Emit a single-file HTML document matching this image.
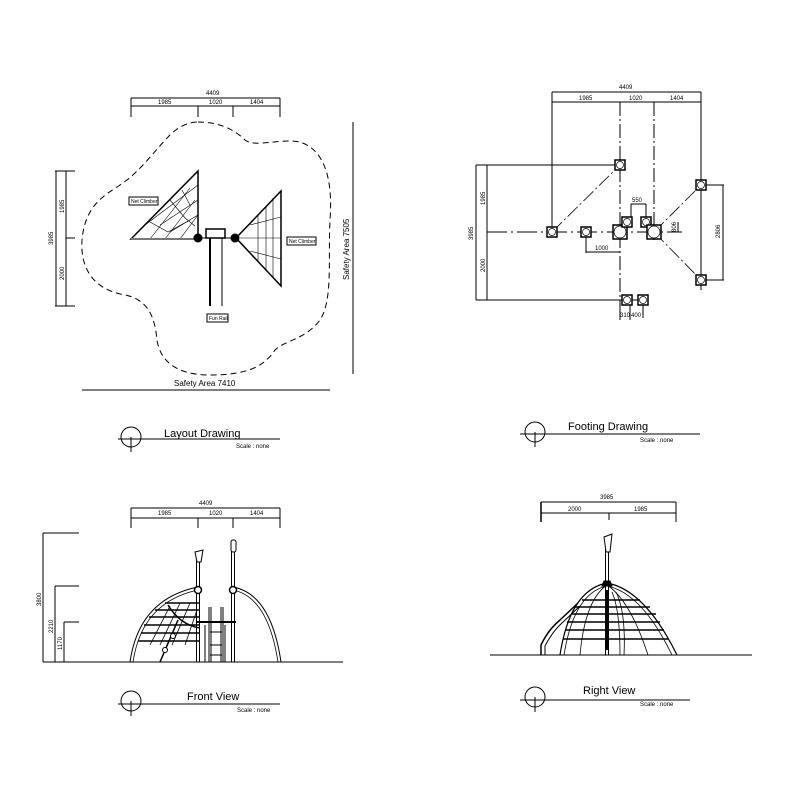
<!DOCTYPE html>
<html><head><meta charset="utf-8"><style>
html,body{margin:0;padding:0;background:#fff;}
svg{display:block;}
text{font-family:"Liberation Sans",sans-serif;fill:#000;}
.s{font-size:6px;}
</style></head><body>
<svg width="800" height="800" viewBox="0 0 800 800" xmlns="http://www.w3.org/2000/svg" stroke="#000" fill="none" stroke-width="1">
<!-- ===== LAYOUT ===== -->
<g>
<line x1="131" y1="98" x2="280" y2="98"/><line x1="131" y1="106" x2="280" y2="106"/>
<line x1="131" y1="98" x2="131" y2="117"/><line x1="198" y1="106" x2="198" y2="117"/><line x1="233" y1="106" x2="233" y2="117"/><line x1="280" y1="98" x2="280" y2="117"/>
<text class="s" x="206" y="95" stroke="none">4409</text>
<text class="s" x="158" y="104" stroke="none">1985</text><text class="s" x="209" y="104" stroke="none">1020</text><text class="s" x="250" y="104" stroke="none">1404</text>
<line x1="56" y1="171" x2="56" y2="306"/><line x1="66" y1="171" x2="66" y2="306"/>
<line x1="55" y1="171" x2="75" y2="171"/><line x1="66" y1="238" x2="75" y2="238"/><line x1="55" y1="306" x2="75" y2="306"/>
<text class="s" transform="translate(53,245) rotate(-90)" stroke="none">3985</text>
<text class="s" transform="translate(64,213) rotate(-90)" stroke="none">1985</text>
<text class="s" transform="translate(64,280) rotate(-90)" stroke="none">2000</text>
<path d="M198,122 C220,122 235,130 245,140 C255,148 280,138 300,142 C325,150 333,180 330,220 C328,260 333,300 320,320 C305,340 285,340 275,350 C265,365 250,375 210,375 C175,375 160,360 157,340 C155,320 150,300 125,295 C95,290 80,270 82,240 C85,205 105,195 120,185 C140,172 155,150 170,135 C178,127 188,122 198,122 Z" stroke-dasharray="6,4"/>
<line x1="353" y1="122" x2="353" y2="374"/>
<line x1="82" y1="390" x2="330" y2="390"/>
<text x="174" y="386" font-size="8" stroke="none">Safety Area 7410</text>
<text transform="translate(349,280) rotate(-90)" font-size="8" stroke="none">Safety Area 7505</text>
<polygon points="131,239 198,171 198,239" stroke-width="1.5"/>
<g stroke-width="0.6">
<line x1="198" y1="185" x2="145" y2="225"/><line x1="198" y1="200" x2="160" y2="225"/><line x1="198" y1="215" x2="170" y2="232"/>
<line x1="150" y1="239" x2="190" y2="188"/><line x1="165" y1="239" x2="195" y2="200"/><line x1="180" y1="239" x2="198" y2="215"/>
<path d="M150,222 L168,232 L190,220 M170,200 L185,218 L195,226 M182,190 L190,205"/>
</g>
<line x1="131" y1="239" x2="198" y2="239" stroke-width="2" stroke="#777"/>
<polygon points="281,191 281,286 236,238" stroke-width="1.5"/>
<g stroke-width="0.6">
<line x1="258" y1="214" x2="258" y2="262"/><line x1="266" y1="206" x2="266" y2="270"/><line x1="273" y1="198" x2="273" y2="278"/>
<line x1="240" y1="238" x2="281" y2="238"/><line x1="250" y1="225" x2="281" y2="217"/><line x1="250" y1="251" x2="281" y2="259"/>
</g>
<circle cx="198" cy="238" r="4" fill="#000"/><circle cx="235" cy="238" r="4" fill="#000"/>
<rect x="206" y="229" width="19" height="9" stroke-width="1.5"/>
<line x1="198" y1="238" x2="235" y2="238"/>
<line x1="210" y1="238" x2="210" y2="306" stroke-width="2"/><line x1="222" y1="238" x2="222" y2="306"/>
<rect x="129" y="197" width="29" height="8" fill="#fff"/><text x="131" y="203" font-size="5" stroke="none">Net Climber</text>
<rect x="287" y="237" width="29" height="8" fill="#fff"/><text x="289" y="243" font-size="5" stroke="none">Net Climber</text>
<rect x="207" y="314" width="21" height="8" fill="#fff"/><text x="209" y="320" font-size="5" stroke="none">Fun Rail</text>
<circle cx="131" cy="437" r="10"/><line x1="118" y1="439" x2="280" y2="439"/><line x1="131" y1="437" x2="131" y2="452"/>
<text x="164" y="437" font-size="11" stroke="none">Layout Drawing</text>
<text x="236" y="448" font-size="6" stroke="none">Scale : none</text>
</g>
<!-- ===== FOOTING ===== -->
<g>
<line x1="552" y1="92" x2="701" y2="92"/><line x1="552" y1="102" x2="701" y2="102"/>
<text class="s" x="619" y="89" stroke="none">4409</text>
<text class="s" x="579" y="100" stroke="none">1985</text><text class="s" x="629" y="100" stroke="none">1020</text><text class="s" x="670" y="100" stroke="none">1404</text>
<line x1="552" y1="92" x2="552" y2="236"/>
<line x1="620" y1="102" x2="620" y2="318" stroke-dasharray="14,3,2,3"/>
<line x1="654" y1="102" x2="654" y2="240" stroke-dasharray="14,3,2,3"/>
<line x1="701" y1="92" x2="701" y2="290"/>
<line x1="476" y1="165" x2="476" y2="300"/><line x1="487" y1="165" x2="487" y2="300"/>
<line x1="476" y1="165" x2="625" y2="165"/><line x1="476" y1="300" x2="645" y2="300"/>
<line x1="487" y1="232" x2="682" y2="232" stroke-dasharray="20,4,2,4"/>
<text class="s" transform="translate(473,240) rotate(-90)" stroke="none">3985</text>
<text class="s" transform="translate(485,205) rotate(-90)" stroke="none">1985</text>
<text class="s" transform="translate(485,272) rotate(-90)" stroke="none">2000</text>
<g stroke-width="0.8" stroke-dasharray="14,3,2,3">
<line x1="552" y1="232" x2="620" y2="165"/><line x1="654" y1="232" x2="701" y2="185"/><line x1="654" y1="232" x2="701" y2="280"/>
</g>
<line x1="701" y1="185" x2="724" y2="185"/><line x1="701" y1="280" x2="724" y2="280"/><line x1="723" y1="185" x2="723" y2="280"/>
<text class="s" transform="translate(720,238) rotate(-90)" stroke="none">2806</text>
<line x1="586" y1="232" x2="586" y2="253"/><line x1="586" y1="252" x2="620" y2="252"/>
<text class="s" x="595" y="250" stroke="none">1000</text>
<line x1="631" y1="204" x2="646" y2="204"/><line x1="631" y1="204" x2="631" y2="222"/><line x1="646" y1="204" x2="646" y2="222"/>
<text class="s" x="632" y="202" stroke="none">550</text>
<line x1="678" y1="222" x2="678" y2="232"/><text class="s" transform="translate(676,232) rotate(-90)" stroke="none">806</text>
<line x1="620" y1="300" x2="620" y2="320"/><line x1="630" y1="300" x2="630" y2="320"/><line x1="643" y1="300" x2="643" y2="318"/>
<text class="s" x="620" y="317" stroke="none">310</text><text class="s" x="631" y="317" stroke="none">400</text>
<g stroke-width="1.5" fill="#fff">
<rect x="547" y="227" width="10" height="10"/><rect x="581" y="227" width="10" height="10"/><rect x="615" y="160" width="10" height="10"/>
<rect x="613" y="225" width="14" height="14"/><rect x="622" y="217" width="10" height="10"/><rect x="641" y="217" width="10" height="10"/>
<rect x="647" y="225" width="14" height="14"/><rect x="696" y="180" width="10" height="10"/><rect x="696" y="275" width="10" height="10"/>
<rect x="622" y="295" width="10" height="10"/><rect x="638" y="295" width="10" height="10"/>
</g>
<g stroke-width="0.7">
<circle cx="552" cy="232" r="3.5"/><circle cx="586" cy="232" r="3.5"/><circle cx="620" cy="165" r="3.5"/><circle cx="620" cy="232" r="6"/>
<circle cx="627" cy="222" r="3.5"/><circle cx="646" cy="222" r="3.5"/><circle cx="654" cy="232" r="6"/><circle cx="701" cy="185" r="3.5"/>
<circle cx="701" cy="280" r="3.5"/><circle cx="627" cy="300" r="3.5"/><circle cx="643" cy="300" r="3.5"/>
</g>
<circle cx="535" cy="432" r="10"/><line x1="520" y1="434" x2="700" y2="434"/><line x1="535" y1="432" x2="535" y2="447"/>
<text x="568" y="430" font-size="11" stroke="none">Footing Drawing</text>
<text x="640" y="442" font-size="6" stroke="none">Scale : none</text>
</g>
<!-- ===== FRONT ===== -->
<g>
<line x1="131" y1="508" x2="280" y2="508"/><line x1="131" y1="518" x2="280" y2="518"/>
<line x1="131" y1="508" x2="131" y2="528"/><line x1="198" y1="518" x2="198" y2="528"/><line x1="233" y1="518" x2="233" y2="528"/><line x1="280" y1="508" x2="280" y2="528"/>
<text class="s" x="199" y="505" stroke="none">4409</text>
<text class="s" x="158" y="515" stroke="none">1985</text><text class="s" x="209" y="515" stroke="none">1020</text><text class="s" x="250" y="515" stroke="none">1404</text>
<line x1="43" y1="533" x2="43" y2="662"/><line x1="43" y1="533" x2="79" y2="533"/>
<line x1="55" y1="586" x2="55" y2="662"/><line x1="55" y1="586" x2="79" y2="586"/>
<line x1="64" y1="622" x2="64" y2="662"/><line x1="64" y1="622" x2="79" y2="622"/>
<text class="s" transform="translate(41,606) rotate(-90)" stroke="none">3800</text>
<text class="s" transform="translate(53,633) rotate(-90)" stroke="none">2210</text>
<text class="s" transform="translate(62,650) rotate(-90)" stroke="none">1170</text>
<line x1="43" y1="662" x2="343" y2="662"/>
<path d="M130,662 Q139,599 198,587" stroke-width="1"/><path d="M133,662 Q142,602 198,590" stroke-width="0.8"/>
<path d="M233,587 Q271,594 281,662" stroke-width="1"/><path d="M233,590 Q268,597 278,662" stroke-width="0.8"/>
<g stroke-width="1.5">
<line x1="165" y1="603" x2="200" y2="603"/><line x1="155" y1="610" x2="200" y2="610"/><line x1="149" y1="617" x2="200" y2="617"/>
<line x1="144" y1="625" x2="200" y2="625"/><line x1="141" y1="633" x2="200" y2="633"/><line x1="138" y1="641" x2="200" y2="641"/>
</g>
<g stroke-width="0.8">
<line x1="160" y1="645" x2="180" y2="603"/><line x1="172" y1="645" x2="190" y2="603"/><line x1="185" y1="645" x2="197" y2="610"/>
<line x1="150" y1="645" x2="170" y2="606"/><path d="M168,605 Q180,625 200,628" stroke-width="1.5"/>
<line x1="160" y1="662" x2="178" y2="620" stroke-width="1.5"/>
</g>
<circle cx="173" cy="636" r="2.5" fill="#fff"/><circle cx="165" cy="650" r="2.5" fill="#fff"/>
<line x1="196.5" y1="557" x2="196.5" y2="662"/><line x1="199.5" y1="557" x2="199.5" y2="662"/>
<path d="M195,552 L203,550 L201,562 L197,562 Z" fill="#fff"/>
<line x1="231.5" y1="543" x2="231.5" y2="662"/><line x1="234.5" y1="543" x2="234.5" y2="662"/>
<rect x="231" y="540" width="5" height="12" rx="2" fill="#fff"/>
<circle cx="198" cy="590" r="3.5" fill="#fff" stroke-width="1.5"/><circle cx="233" cy="590" r="3.5" fill="#fff" stroke-width="1.5"/>
<line x1="196" y1="622" x2="236" y2="622" stroke-width="2"/>
<line x1="209" y1="607" x2="209" y2="662"/><line x1="211" y1="607" x2="211" y2="662"/>
<line x1="221" y1="607" x2="221" y2="662"/><line x1="223" y1="607" x2="223" y2="662"/>
<line x1="205" y1="625" x2="205" y2="662"/><line x1="225" y1="625" x2="225" y2="662"/>
<line x1="210" y1="632" x2="222" y2="632"/><line x1="210" y1="645" x2="222" y2="645"/><line x1="210" y1="655" x2="222" y2="655"/>
<circle cx="131" cy="701" r="10"/><line x1="118" y1="704" x2="280" y2="704"/><line x1="131" y1="701" x2="131" y2="716"/>
<text x="187" y="700" font-size="11" stroke="none">Front View</text>
<text x="237" y="712" font-size="6" stroke="none">Scale : none</text>
</g>
<!-- ===== RIGHT ===== -->
<g>
<line x1="541" y1="502" x2="676" y2="502"/><line x1="541" y1="513" x2="676" y2="513"/>
<line x1="541" y1="502" x2="541" y2="522" stroke-width="1.5"/><line x1="609" y1="513" x2="609" y2="520"/><line x1="676" y1="502" x2="676" y2="522"/>
<text class="s" x="600" y="499" stroke="none">3985</text>
<text class="s" x="568" y="511" stroke="none">2000</text><text class="s" x="634" y="511" stroke="none">1985</text>
<line x1="490" y1="655" x2="752" y2="655"/>
<path d="M560,655 Q570,590 607,583 Q645,590 677,655" stroke-width="1.2"/>
<path d="M564,655 Q574,593 607,586 Q642,593 672,655" stroke-width="0.8"/>
<path d="M580,655 Q585,600 607,585 Q630,600 648,655" stroke-width="0.8"/>
<path d="M620,655 Q620,610 612,592" stroke-width="0.8"/><path d="M624,655 Q626,612 616,592" stroke-width="0.8"/>
<g stroke-width="1.5">
<line x1="582" y1="600" x2="640" y2="600"/><line x1="575" y1="607" x2="650" y2="607"/><line x1="571" y1="614" x2="656" y2="614"/>
<line x1="567" y1="622" x2="660" y2="622"/><line x1="565" y1="630" x2="664" y2="630"/><line x1="563" y1="639" x2="668" y2="639"/>
</g>
<path d="M541,655 L541,645 Q548,630 560,620 L578,603" stroke-width="1.5"/><path d="M545,655 L545,646 Q552,632 563,622 L580,606"/>
<line x1="605.5" y1="540" x2="605.5" y2="655"/><line x1="608.5" y1="540" x2="608.5" y2="655"/>
<line x1="607" y1="590" x2="607" y2="650" stroke-width="4"/>
<path d="M604,537 L612,534 L610,552 L606,552 Z" fill="#fff"/>
<path d="M602,586 L604,581 L610,581 L612,586 Z" fill="#000"/>
<circle cx="535" cy="697" r="10"/><line x1="520" y1="700" x2="690" y2="700"/><line x1="535" y1="697" x2="535" y2="712"/>
<text x="583" y="694" font-size="11" stroke="none">Right View</text>
<text x="640" y="706" font-size="6" stroke="none">Scale : none</text>
</g>
</svg>
</body></html>
